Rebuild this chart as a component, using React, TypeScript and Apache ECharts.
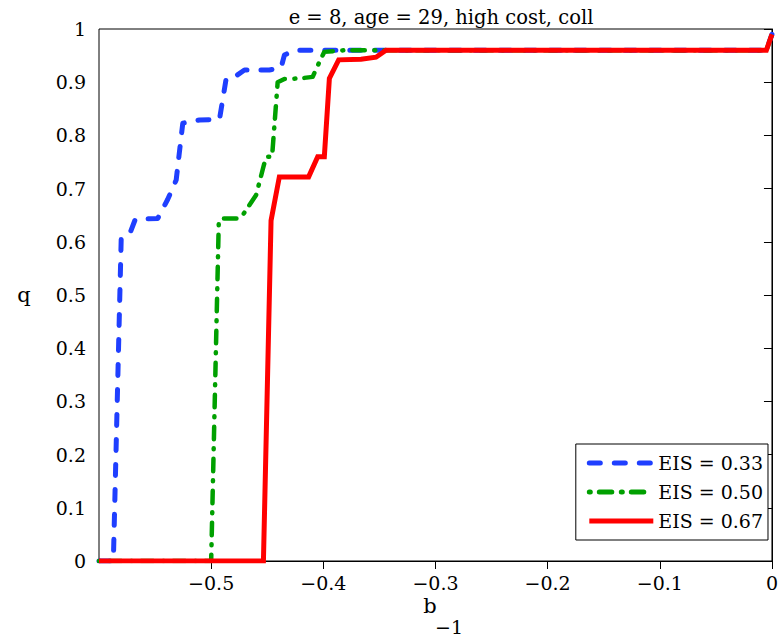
import React, { useEffect, useRef } from "react";
import * as echarts from "echarts";

const titleText = "e = 8, age = 29, high cost, coll";
const seriesNames = ["EIS = 0.33", "EIS = 0.50", "EIS = 0.67"];
const xTickValues = [-0.5, -0.4, -0.3, -0.2, -0.1, 0];

const blueB = [-0.6, -0.5872, -0.5802, -0.5728, -0.5677, -0.5476, -0.5387, -0.5312, -0.5253, -0.5104, -0.4926, -0.4866, -0.4777, -0.4703, -0.4481, -0.4377, -0.4347, -0.4258, -0.005, 0];
const blueQ = [0, 0, 0.606, 0.614, 0.642, 0.644, 0.68, 0.716, 0.823, 0.829, 0.83, 0.907, 0.912, 0.923, 0.923, 0.927, 0.951, 0.96, 0.96, 0.99];

const greenB = [-0.6, -0.5, -0.4932, -0.4899, -0.4748, -0.4719, -0.4599, -0.4534, -0.451, -0.4457, -0.4407, -0.4347, -0.4213, -0.4095, -0.402, -0.3991, -0.3813, -0.005, 0];
const greenQ = [0, 0, 0.638, 0.644, 0.644, 0.65, 0.688, 0.741, 0.76, 0.76, 0.9, 0.906, 0.907, 0.91, 0.945, 0.957, 0.96, 0.96, 0.99];

const redB = [-0.6, -0.4534, -0.4466, -0.4392, -0.4131, -0.405, -0.3991, -0.3946, -0.3863, -0.3664, -0.353, -0.3441, -0.005, 0];
const redQ = [0, 0, 0.64, 0.722, 0.722, 0.76, 0.76, 0.907, 0.942, 0.943, 0.947, 0.96, 0.96, 0.99];

const FONT = "'DejaVu Serif', serif";

function pairs(b: number[], q: number[]) {
  return b.map((v, i) => [v, q[i]]);
}

export default function App() {
  const ref = useRef<HTMLDivElement>(null);
  useEffect(() => {
    if (!ref.current) return;
    const chart = echarts.init(ref.current, undefined, { renderer: "svg" });
    chart.setOption({
      animation: false,
      backgroundColor: "#fff",
      title: {
        text: titleText,
        left: 436,
        top: 2,
        textAlign: "center",
        textStyle: { fontFamily: FONT, fontSize: 19.5, fontWeight: "normal", color: "#000" },
      },
      grid: {
        left: 99,
        right: 8,
        top: 29,
        bottom: 76,
        show: true,
        borderColor: "#000",
        borderWidth: 1,
        backgroundColor: "transparent",
      },
      legend: {
        orient: "vertical",
        right: 13,
        top: 444,
        itemWidth: 64,
        itemHeight: 14,
        itemGap: 9,
        padding: [9, 5, 9, 11],
        borderColor: "#000",
        borderWidth: 1,
        borderRadius: 0,
        backgroundColor: "#fff",
        itemStyle: { opacity: 0, borderWidth: 0 },
        lineStyle: { width: 5 },
        textStyle: { fontFamily: FONT, fontSize: 19, color: "#000", lineHeight: 20 },
        data: seriesNames,
      },
      xAxis: {
        type: "value",
        min: -0.6,
        max: 0,
        axisLine: { show: true, lineStyle: { color: "#000", width: 1 } },
        axisTick: { show: true, length: 8, customValues: xTickValues, lineStyle: { color: "#000" } },
        axisLabel: {
          customValues: xTickValues,
          margin: 13,
          fontFamily: FONT,
          fontSize: 19,
          lineHeight: 17,
          color: "#000",
          formatter: (v: number) => (Math.abs(v) < 1e-9 ? "0" : (v < 0 ? "\u2212" : "") + Math.abs(v).toFixed(1)),
        },
        splitLine: { show: false },
      },
      yAxis: {
        type: "value",
        min: 0,
        max: 1,
        interval: 0.1,
        axisLine: { show: true, lineStyle: { color: "#000", width: 1 } },
        axisTick: { show: true, length: 8, lineStyle: { color: "#000" } },
        axisLabel: {
          margin: 13,
          fontFamily: FONT,
          fontSize: 19,
          color: "#000",
          formatter: (v: number) => (Math.abs(v) < 1e-9 ? "0" : Math.abs(v - 1) < 1e-9 ? "1" : v.toFixed(1)),
        },
        splitLine: { show: false },
      },
      graphic: [
        { type: "text", x: 430, y: 606, style: { text: "b", fontFamily: FONT, fontSize: 21, lineHeight: 16, fill: "#000", align: "center", verticalAlign: "middle" } },
        { type: "text", x: 449, y: 627, style: { text: "\u22121", fontFamily: FONT, fontSize: 19, lineHeight: 16, fill: "#000", align: "center", verticalAlign: "middle" } },
        { type: "text", x: 24, y: 295, style: { text: "q", fontFamily: FONT, fontSize: 21, fill: "#000", align: "center", verticalAlign: "middle" } },
      ],
      series: [
        {
          name: seriesNames[0],
          type: "line",
          symbol: "none",
          data: pairs(blueB, blueQ),
          lineStyle: { color: "#1f3fff", width: 5, type: [11, 14], cap: "round", join: "round" },
          itemStyle: { color: "#1f3fff" },
        },
        {
          name: seriesNames[1],
          type: "line",
          symbol: "none",
          data: pairs(greenB, greenQ),
          lineStyle: { color: "#00a000", width: 4.5, type: [1, 9, 12.5, 9.5], cap: "round", join: "round" },
          itemStyle: { color: "#00a000" },
        },
        {
          name: seriesNames[2],
          type: "line",
          symbol: "none",
          data: pairs(redB, redQ),
          lineStyle: { color: "#ff0000", width: 5, type: "solid", cap: "butt", join: "miter" },
          itemStyle: { color: "#ff0000" },
        },
      ],
    });
    return () => chart.dispose();
  }, []);
  return <div ref={ref} style={{ position: "fixed", left: 0, top: 0, width: 781, height: 637 }} />;
}
